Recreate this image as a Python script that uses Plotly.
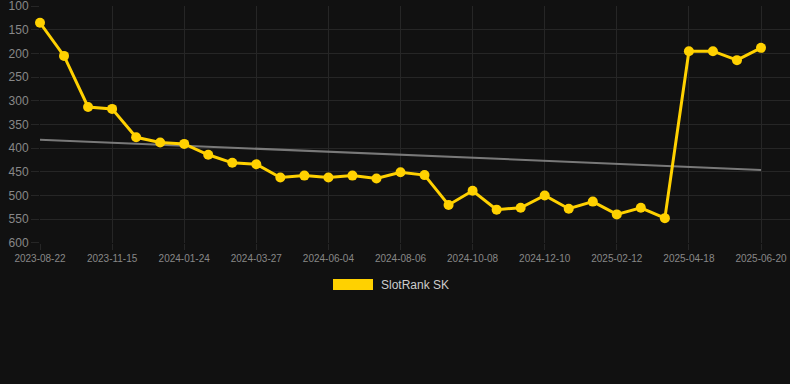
import plotly.graph_objects as go

dates = [
    "2023-08-22", "2023-09-19", "2023-10-18", "2023-11-15", "2023-12-08",
    "2024-01-01", "2024-01-24", "2024-02-14", "2024-03-06", "2024-03-27",
    "2024-04-19", "2024-05-12", "2024-06-04", "2024-06-25", "2024-07-16",
    "2024-08-06", "2024-08-27", "2024-09-17", "2024-10-08", "2024-10-29",
    "2024-11-19", "2024-12-10", "2024-12-31", "2025-01-22", "2025-02-12",
    "2025-03-06", "2025-03-27", "2025-04-18", "2025-05-09", "2025-05-30",
    "2025-06-20",
]
rank = [
    135, 205, 313, 317, 377, 388, 391, 414, 431, 434,
    462, 458, 462, 458, 464, 451, 457, 520, 490, 530,
    526, 500, 528, 513, 540, 526, 548, 195, 195, 214,
    188,
]
trend_x = [dates[0], dates[-1]]
trend_y = [382, 446]
series_name = "SlotRank SK"

YELLOW = "#FFD100"
BG = "#111111"
GRID = "#262626"
TICK = "#888888"

fig = go.Figure()
fig.add_trace(go.Scatter(
    x=dates, y=rank, mode="lines+markers", name=series_name,
    line=dict(color=YELLOW, width=3),
    marker=dict(color=YELLOW, size=10),
    showlegend=False, cliponaxis=False,
))
fig.add_trace(go.Scatter(
    x=trend_x, y=trend_y, mode="lines",
    line=dict(color="rgba(140,140,140,0.85)", width=2),
    hoverinfo="skip", showlegend=False, cliponaxis=False,
))
# keep the trend line beneath the series
fig.data = (fig.data[1], fig.data[0])

W, H = 790, 384
ml, mr, mt, mb = 40, 0, 6, 141
pw, ph = W - ml - mr, H - mt - mb

def px(x):
    return (x - ml) / pw

def py(y):
    return (H - mb - y) / ph

fig.add_shape(type="rect", xref="paper", yref="paper",
              x0=px(333), x1=px(373), y0=py(290), y1=py(279),
              fillcolor=YELLOW, line=dict(width=0))
fig.add_annotation(xref="paper", yref="paper", x=px(379), y=py(284.5),
                   text=series_name, showarrow=False, xanchor="left",
                   yanchor="middle", font=dict(size=12, color="#cccccc"))

fig.update_layout(
    width=W, height=H,
    margin=dict(l=ml, r=mr, t=mt, b=mb, pad=0),
    paper_bgcolor=BG, plot_bgcolor=BG,
    font=dict(family="Liberation Sans, Arial, sans-serif", color=TICK),
    showlegend=False,
    xaxis=dict(
        type="category", categoryorder="array", categoryarray=dates,
        range=[0, 30 * pw / 721],
        tickmode="linear", tick0=0, dtick=3,
        showgrid=True, gridcolor=GRID, gridwidth=1,
        ticks="outside", ticklen=6, tickcolor=GRID,
        tickfont=dict(size=10, color=TICK),
        showline=False, zeroline=False, fixedrange=True,
    ),
    yaxis=dict(
        range=[600.5, 99.5], tickmode="linear", tick0=100, dtick=50,
        showgrid=True, gridcolor=GRID, gridwidth=1,
        ticks="outside", ticklen=8, tickcolor=GRID,
        tickfont=dict(size=12, color=TICK),
        ticklabeloverflow="allow",
        showline=False, zeroline=False, fixedrange=True,
    ),
)

fig.write_html(
    "out.html",
    config={"displayModeBar": False},
    post_script="document.body.style.margin='0';document.body.style.padding='0';",
)
